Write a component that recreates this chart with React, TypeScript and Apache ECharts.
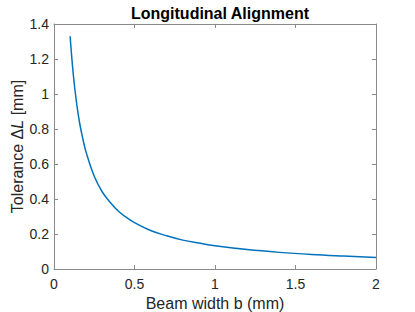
import React, { useEffect, useRef } from "react";
import * as echarts from "echarts";

const beamWidth = [0.1, 0.12, 0.14, 0.16, 0.18, 0.2, 0.25, 0.3, 0.35, 0.4, 0.45, 0.5, 0.6, 0.7, 0.8, 0.9, 1.0, 1.2, 1.4, 1.6, 1.8, 2.0];
const tolerance = [1.33, 1.11, 0.95, 0.83, 0.74, 0.665, 0.53, 0.44, 0.38, 0.33, 0.295, 0.265, 0.22, 0.19, 0.165, 0.148, 0.133, 0.111, 0.095, 0.083, 0.074, 0.066];

const FONT = "Liberation Sans, Arial, Helvetica, sans-serif";
const AX = "#262626";
const GRID_LINE = "#8a8a8a";

export default function App() {
  const ref = useRef<HTMLDivElement>(null);
  useEffect(() => {
    if (!ref.current) return;
    const chart = echarts.init(ref.current, undefined, { renderer: "svg" });
    const data = beamWidth.map((b, i) => [b, tolerance[i]]);
    const baseAxisLine = { show: true, onZero: false, lineStyle: { color: GRID_LINE, width: 1 } };
    const tick = { show: true, inside: true, length: 4, lineStyle: { color: GRID_LINE } };
    chart.setOption({
      animation: false,
      backgroundColor: "#ffffff",
      textStyle: { fontFamily: FONT },
      title: {
        text: "Longitudinal Alignment",
        left: 215,
        textAlign: "center",
        top: 0,
        textStyle: { fontFamily: FONT, fontSize: 16, fontWeight: "bold", color: "#000" },
      },
      grid: { left: 54, right: 39, top: 24, bottom: 43, containLabel: false, outerBoundsMode: "none" },
      xAxis: [
        {
          type: "value",
          min: 0,
          max: 2,
          interval: 0.5,
          position: "bottom",
          axisLine: baseAxisLine,
          axisTick: tick,
          axisLabel: { color: AX, fontSize: 14, fontFamily: FONT, margin: 8 },
          splitLine: { show: false },
          name: "Beam width b (mm)",
          nameLocation: "middle",
          nameGap: 26,
          nameMoveOverlap: false,
          nameTextStyle: { color: AX, fontSize: 16, fontFamily: FONT },
        },
        {
          type: "value",
          min: 0,
          max: 2,
          interval: 0.5,
          position: "top",
          axisLine: baseAxisLine,
          axisTick: tick,
          axisLabel: { show: false },
          splitLine: { show: false },
        },
      ],
      yAxis: [
        {
          type: "value",
          min: 0,
          max: 1.4,
          interval: 0.2,
          position: "left",
          axisLine: baseAxisLine,
          axisTick: tick,
          axisLabel: { color: AX, fontSize: 14, fontFamily: FONT, margin: 5 },
          splitLine: { show: false },
          name: "{n|Tolerance Δ}{i|L}{n| [mm]}",
          nameLocation: "middle",
          nameGap: 29,
          nameMoveOverlap: false,
          nameRotate: 90,
          nameTextStyle: {
            color: AX,
            fontSize: 16,
            fontFamily: FONT,
            rich: {
              n: { fontSize: 16, fontFamily: FONT, color: AX },
              i: { fontSize: 16, fontFamily: FONT, color: AX, fontStyle: "italic" },
            },
          },
        },
        {
          type: "value",
          min: 0,
          max: 1.4,
          interval: 0.2,
          position: "right",
          axisLine: baseAxisLine,
          axisTick: tick,
          axisLabel: { show: false },
          splitLine: { show: false },
        },
      ],
      series: [
        {
          type: "line",
          data,
          xAxisIndex: 0,
          yAxisIndex: 0,
          smooth: 0.4,
          showSymbol: false,
          symbol: "none",
          lineStyle: { color: "#0072BD", width: 1.5 },
        },
      ],
    });
    return () => chart.dispose();
  }, []);
  return <div ref={ref} style={{ width: 415, height: 312, position: "absolute", left: 0, top: 0 }} />;
}
